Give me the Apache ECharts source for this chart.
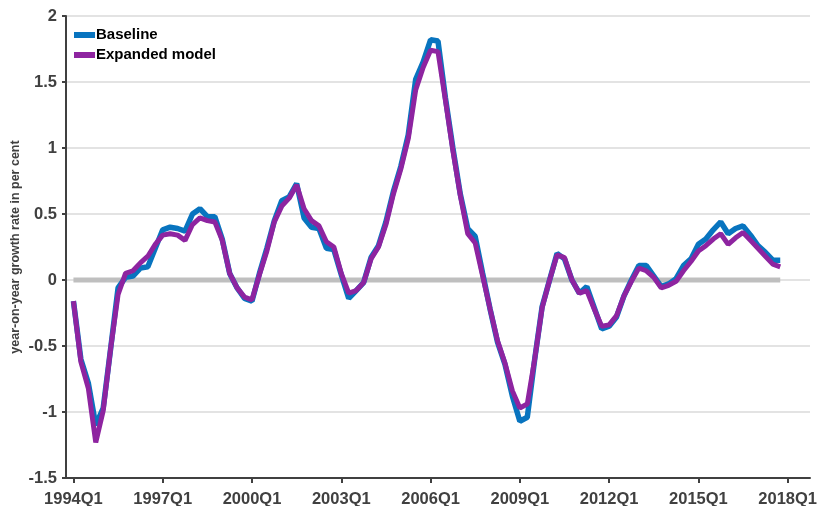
<!DOCTYPE html>
<html>
<head>
<meta charset="utf-8">
<script src="https://cdn.jsdelivr.net/npm/echarts@6/dist/echarts.min.js"></script>
<style>
html,body{margin:0;padding:0;background:#fff;}
#chart{width:817px;height:506px;}
</style>
</head>
<body>
<div id="chart"></div>
<script>
// Quarters shown on the axis: 1993Q4 .. 2018Q4 (data span 1994Q1 .. 2017Q4)
const firstYear = 1993, lastYear = 2018;
const quarters = [];
for (let y = firstYear; y <= lastYear; y++) {
  for (let q = 1; q <= 4; q++) {
    if (y === firstYear && q < 4) continue;
    quarters.push(y + 'Q' + q);
  }
}
const tickLabels = ['1994Q1','1997Q1','2000Q1','2003Q1','2006Q1','2009Q1','2012Q1','2015Q1','2018Q1'];

// Values 1994Q1 .. 2017Q4
const baseline = [
 -0.16,-0.60,-0.78,-1.10,-0.97,-0.52,-0.06,0.02,0.03,0.09,0.10,0.24,
 0.38,0.40,0.39,0.37,0.50,0.54,0.48,0.48,0.31,0.05,-0.06,-0.14,
 -0.16,0.05,0.24,0.45,0.60,0.63,0.73,0.47,0.40,0.39,0.24,0.23,
 0.04,-0.14,-0.08,-0.02,0.17,0.26,0.44,0.67,0.86,1.10,1.52,1.65,
 1.82,1.81,1.38,1.00,0.65,0.39,0.33,0.05,-0.22,-0.47,-0.64,-0.88,
 -1.07,-1.04,-0.60,-0.20,0.00,0.20,0.16,0.00,-0.10,-0.05,-0.21,-0.37,
 -0.35,-0.28,-0.12,0.00,0.11,0.11,0.03,-0.05,-0.03,0.01,0.11,0.16,
 0.27,0.31,0.38,0.44,0.35,0.39,0.41,0.34,0.26,0.21,0.15,0.15
];
const expanded = [
 -0.16,-0.62,-0.82,-1.23,-0.99,-0.52,-0.11,0.05,0.07,0.13,0.18,0.27,
 0.34,0.35,0.34,0.30,0.42,0.47,0.45,0.44,0.30,0.05,-0.06,-0.13,
 -0.15,0.04,0.22,0.44,0.56,0.62,0.72,0.54,0.45,0.41,0.29,0.25,
 0.05,-0.10,-0.08,-0.02,0.16,0.25,0.42,0.65,0.84,1.07,1.44,1.61,
 1.74,1.73,1.36,0.98,0.64,0.35,0.28,0.03,-0.22,-0.46,-0.63,-0.84,
 -0.97,-0.94,-0.60,-0.21,0.00,0.19,0.17,0.00,-0.10,-0.08,-0.22,-0.35,
 -0.34,-0.27,-0.12,-0.01,0.09,0.07,0.02,-0.06,-0.04,-0.01,0.07,0.14,
 0.22,0.26,0.31,0.35,0.27,0.32,0.36,0.30,0.24,0.18,0.12,0.10
];
const zeroLine = baseline.map(() => 0);

const yTicks = {min: -1.5, max: 2, interval: 0.5};
const seriesNames = ['Baseline', 'Expanded model'];

function pad(arr) {
  // align with axis: one leading empty slot (1993Q4), trailing empties to 2018Q4
  const out = [null].concat(arr);
  while (out.length < quarters.length) out.push(null);
  return out;
}

const labelShown = (idx, val) => tickLabels.indexOf(val) >= 0;
const axisColor = '#404040';
const font = 'Liberation Sans, Arial, sans-serif';
const chart = echarts.init(document.getElementById('chart'), null, {renderer: 'canvas'});
chart.setOption({
  animation: false,
  backgroundColor: '#ffffff',
  grid: {left: 66, right: 7, top: 16, bottom: 28, containLabel: false, outerBoundsMode: 'none'},
  legend: {
    orient: 'vertical', left: 69, top: 22, padding: 5,
    itemWidth: 21, itemHeight: 6, itemGap: 4, icon: 'rect',
    data: seriesNames,
    textStyle: {fontFamily: font, fontWeight: 'bold', fontSize: 15, color: '#000', lineHeight: 16, padding: [0,0,0,-4]}
  },
  xAxis: {
    type: 'category', data: quarters, boundaryGap: false,
    axisLine: {show: true, onZero: false, lineStyle: {color: axisColor, width: 2}},
    axisTick: {show: true, interval: labelShown, length: 5, lineStyle: {color: axisColor, width: 2}},
    axisLabel: {interval: labelShown, margin: 13, color: axisColor, fontFamily: font, fontWeight: 'bold', fontSize: 16.5},
    splitLine: {show: false}
  },
  yAxis: {
    type: 'value', min: yTicks.min, max: yTicks.max, interval: yTicks.interval,
    name: 'year-on-year growth rate in per cent', nameLocation: 'middle', nameGap: 44, nameRotate: 90,
    nameMoveOverlap: false,
    nameTextStyle: {color: axisColor, fontFamily: font, fontWeight: 'bold', fontSize: 12.5},
    axisLine: {show: true, lineStyle: {color: axisColor, width: 2}},
    axisTick: {show: true, length: 4, lineStyle: {color: axisColor, width: 2}},
    axisLabel: {margin: 9, color: axisColor, fontFamily: font, fontWeight: 'bold', fontSize: 16.5},
    splitLine: {show: true, lineStyle: {color: '#e3e3e3', width: 2}}
  },
  series: [
    {name: 'zero', type: 'line', data: pad(zeroLine), symbol: 'none', silent: true,
     lineStyle: {color: '#bfbfbf', width: 5}, z: 1},
    {name: seriesNames[0], type: 'line', data: pad(baseline), symbol: 'none',
     itemStyle: {color: '#0874bf'}, lineStyle: {color: '#0874bf', width: 5.5}, z: 2},
    {name: seriesNames[1], type: 'line', data: pad(expanded), symbol: 'none',
     itemStyle: {color: '#8e24a0'}, lineStyle: {color: '#8e24a0', width: 5}, z: 3}
  ]
});
</script>
</body>
</html>
